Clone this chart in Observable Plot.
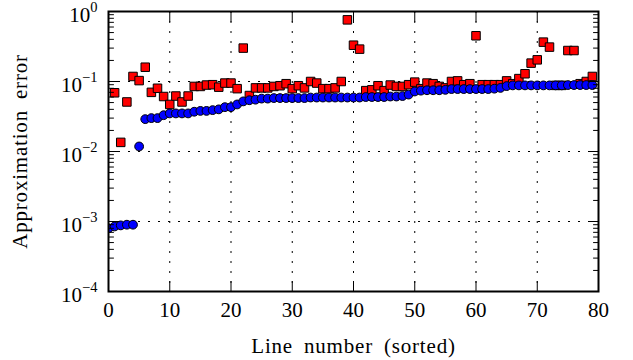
<!DOCTYPE html>
<html><head><meta charset="utf-8">
<script src="https://cdn.jsdelivr.net/npm/d3@7"></script>
<script src="https://cdn.jsdelivr.net/npm/@observablehq/plot@0.6"></script>
<style>body{margin:0;background:#fff}</style>
</head><body><div id="chart"></div>
<script>
// ---- data ----
const xTickValues = [0, 10, 20, 30, 40, 50, 60, 70, 80];
const yTickValues = [1e-4, 1e-3, 1e-2, 1e-1, 1];
const yTickExponents = ["−4", "−3", "−2", "−1", "0"];
const xLabel = "Line number (sorted)";
const yLabel = "Approximation error";

// blue circles, line numbers 0..79
const blueValues = [
  0.0008, 0.00085, 0.00088, 0.0009, 0.0009,          // 0-4
  0.0118, 0.029, 0.030, 0.030, 0.033,                 // 5-9
  0.035, 0.035, 0.035, 0.035, 0.037,                  // 10-14
  0.038, 0.038, 0.039, 0.040, 0.043,                  // 15-19
  0.043, 0.047, 0.052, 0.054, 0.055,                  // 20-24
  0.057, 0.057, 0.058, 0.058, 0.058,                  // 25-29
  0.058, 0.058, 0.058, 0.059, 0.059,                  // 30-34
  0.059, 0.059, 0.059, 0.059, 0.059,                  // 35-39
  0.059, 0.059, 0.060, 0.060, 0.060,                  // 40-44
  0.060, 0.061, 0.061, 0.062, 0.065,                  // 45-49
  0.072, 0.074, 0.075, 0.075, 0.075,                  // 50-54
  0.076, 0.078, 0.078, 0.078, 0.078,                  // 55-59
  0.078, 0.078, 0.078, 0.079, 0.081,                  // 60-64
  0.086, 0.088, 0.088, 0.088, 0.088,                  // 65-69
  0.088, 0.088, 0.088, 0.088, 0.088,                  // 70-74
  0.089, 0.089, 0.089, 0.089, 0.089                   // 75-79
];

// red squares, line numbers 0..79 (none visible at 0)
const redValues = [
  null, 0.069, 0.0135, 0.051, 0.118,                  // 0-4
  0.103, 0.16, 0.070, 0.080, 0.061,                   // 5-9
  0.047, 0.062, 0.051, 0.062, 0.085,                  // 10-14
  0.085, 0.089, 0.090, 0.083, 0.095,                  // 15-19
  0.095, 0.079, 0.30, 0.063, 0.081,                   // 20-24
  0.081, 0.081, 0.085, 0.087, 0.093,                  // 25-29
  0.079, 0.087, 0.081, 0.100, 0.095,                  // 30-34
  0.079, 0.079, 0.081, 0.100, 0.76,                   // 35-39
  0.33, 0.29, 0.074, 0.076, 0.087,                    // 40-44
  0.074, 0.089, 0.085, 0.085, 0.090,                  // 45-49
  0.098, 0.079, 0.095, 0.093, 0.085,                  // 50-54
  0.081, 0.100, 0.102, 0.090, 0.093,                  // 55-59
  0.45, 0.090, 0.090, 0.090, 0.090,                   // 60-64
  0.102, 0.093, 0.110, 0.129, 0.183,                  // 65-69
  0.204, 0.365, 0.31, 0.088, 0.088,                   // 70-74
  0.277, 0.277, 0.093, 0.100, 0.118                   // 75-79
];

const blueData = blueValues.map((v, i) => ({line: i, err: v}));
const redData = redValues.map((v, i) => ({line: i, err: v})).filter(d => d.err != null);

// minor log ticks (2..9 per decade)
const yMinor = [];
for (const dec of [1e-4, 1e-3, 1e-2, 1e-1]) for (const m of [2,3,4,5,6,7,8,9]) yMinor.push(dec * m);

const tickShape = {draw(ctx, l) { ctx.moveTo(0, 0); ctx.lineTo(0, -l); }};
const tick = (data, opts) => Plot.vector(data, {anchor: "start", shape: tickShape, stroke: "black", strokeWidth: 1, ...opts});
const grid = {stroke: "black", strokeOpacity: 1, strokeWidth: 1, strokeDasharray: "2,8"};

const chart = Plot.plot({
  width: 633, height: 360,
  marginLeft: 108, marginRight: 35, marginTop: 11, marginBottom: 69,
  style: {fontFamily: "'Liberation Serif', 'Times New Roman', serif", fontSize: "21px", background: "white", color: "black", overflow: "visible"},
  x: {domain: [0, 80]},
  y: {type: "log", domain: [1e-4, 1]},
  marks: [
    Plot.gridX(xTickValues.slice(1, -1), grid),
    Plot.gridY(yTickValues.slice(1, -1), grid),
    Plot.dot(redData, {x: "line", y: "err", symbol: "square", r: 4.8, fill: "#ff0000", stroke: "black", strokeWidth: 1, clip: true}),
    Plot.dot(blueData, {x: "line", y: "err", r: 4.4, fill: "#0000ff", stroke: "black", strokeWidth: 1, clip: true}),
    tick(xTickValues, {x: d => d, frameAnchor: "bottom", length: 10, rotate: 0}),
    tick(xTickValues, {x: d => d, frameAnchor: "top", length: 10, rotate: 180}),
    tick(yTickValues, {y: d => d, frameAnchor: "left", length: 10, rotate: 90}),
    tick(yTickValues, {y: d => d, frameAnchor: "right", length: 10, rotate: -90}),
    tick(yMinor, {y: d => d, frameAnchor: "left", length: 5, rotate: 90}),
    tick(yMinor, {y: d => d, frameAnchor: "right", length: 5, rotate: -90}),
    Plot.frame({stroke: "black", strokeWidth: 2}),
    Plot.axisX({ticks: xTickValues, tickSize: 0, tickPadding: 11, tickFormat: d => String(d), label: null}),
    Plot.axisY({ticks: yTickValues, tickSize: 0, tickPadding: 11, dy: 4, tickFormat: d => yTickExponents[yTickValues.indexOf(d)], label: null}),
    Plot.text([xLabel], {frameAnchor: "bottom", textAnchor: "middle", dy: 47, lineAnchor: "top", fontSize: 21}),
    Plot.text([yLabel], {frameAnchor: "left", textAnchor: "middle", rotate: -90, dx: -88, fontSize: 21})
  ]
});

// y tick labels: 10 with superscript exponent
d3.select(chart).selectAll('g[aria-label="y-axis tick label"] text').each(function() {
  const exp = this.textContent;
  const t = d3.select(this);
  t.text(null);
  t.append("tspan").text("10");
  t.append("tspan").attr("dy", -10.5).attr("font-size", 14.5).text(exp);
});
// LaTeX-like generous spacing of the axis titles
d3.select(chart).selectAll("text")
  .filter(function() { return this.textContent === xLabel || this.textContent === yLabel; })
  .attr("letter-spacing", "0.8").attr("word-spacing", "5")
  .style("letter-spacing", "0.8px").style("word-spacing", "5px");

document.getElementById("chart").appendChild(chart);
</script>
</body></html>
